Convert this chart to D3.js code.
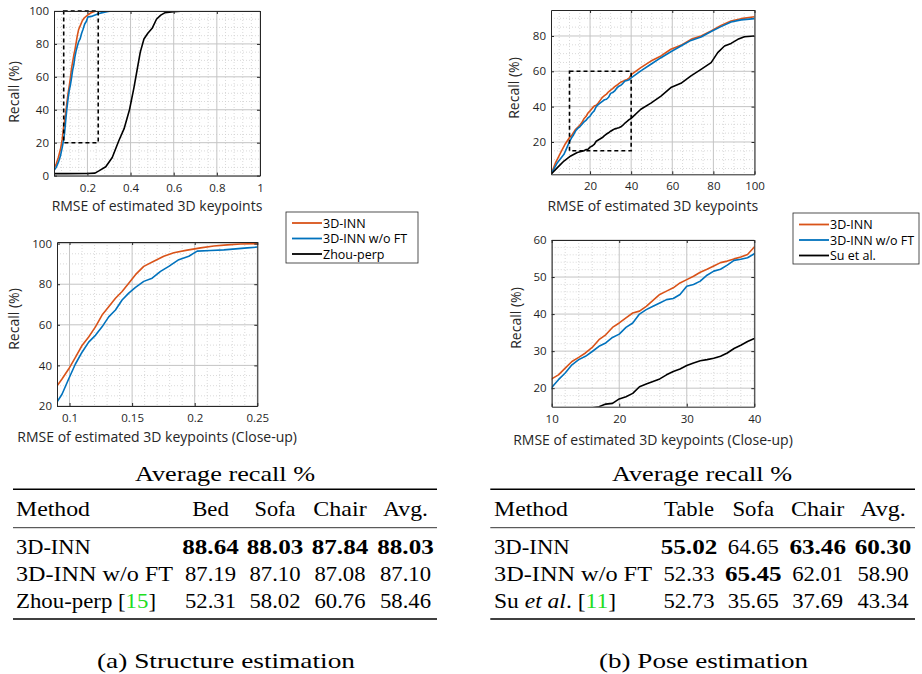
<!DOCTYPE html>
<html>
<head>
<meta charset="utf-8">
<script src="https://d3js.org/d3.v7.min.js"></script>
<style>
  body { margin: 0; background: #fff; }
</style>
</head>
<body>
<div id="figure"></div>
<script>
// ---- Structure estimation curves: [RMSE, recall %]
var structInn = [[0.045,4.5],[0.055,7],[0.065,11],[0.075,16],[0.083,22],[0.09,29.9],[0.094,33.3],[0.0993,38.2],
  [0.1047,44],[0.11,49.8],[0.1153,54],[0.1207,59],[0.126,64.8],[0.1313,68.9],[0.1367,73.1],[0.142,76.4],
  [0.1473,80.5],[0.1527,84.7],[0.1593,88.8],[0.1673,91.3],[0.1753,93.8],[0.1833,95.5],[0.194,96.8],
  [0.2047,97.9],[0.2153,98.8],[0.226,99.4],[0.2367,99.8],[0.25,100],[1,100]];
var structInnNoFt = [[0.045,3],[0.055,5],[0.065,8],[0.075,12],[0.083,17],[0.09,22],[0.094,25.8],[0.0993,33.3],
  [0.1047,40.7],[0.11,46.5],[0.1153,51.5],[0.1207,54.8],[0.126,59],[0.1313,63.9],[0.1367,67.3],[0.142,72.2],
  [0.1473,75.6],[0.1527,78.4],[0.1593,81.4],[0.166,83],[0.1727,86.3],[0.1793,88.8],[0.1873,92.1],[0.1953,93.8],
  [0.202,96.3],[0.2127,96.6],[0.2233,96.9],[0.2327,97.4],[0.242,97.9],[0.25,98.3],[0.27,99],[0.29,99.6],
  [0.31,100],[1,100]];
var structZhou = [[0.045,1.2],[0.1,1.2],[0.2,1.3],[0.235,1.5],[0.255,3],[0.285,5.4],[0.315,11],[0.345,21],
  [0.37,28.5],[0.395,40],[0.415,53],[0.43,64],[0.445,75],[0.462,83],[0.48,86.5],[0.5,89.5],[0.52,95],
  [0.54,97.5],[0.56,99],[0.6,99.5],[0.65,100],[1,100]];

// ---- Pose estimation curves: [RMSE, recall %]
var poseInn = [[1,1.7],[3.25,8.3],[5.7,14],[8,19],[10,22.5],[11,23.6],[12,25.4],[13,27.2],[14,28.3],[15,29.5],
  [16,31],[17,33.1],[18,34.4],[19,36.4],[20,37.6],[21,39],[22,40.3],[23,40.8],[24,42.1],[25,43.7],[26,45.3],
  [27,46.2],[28,47.1],[29,48.4],[30,49.3],[31,50.2],[32,51.3],[33,52.1],[34,53],[35,53.9],[36,54.3],[37,54.9],
  [38,55.4],[39,56.1],[40,58.1],[44.7,62.1],[49.6,65.8],[54.5,68.7],[59.3,72.5],[64.2,74.7],[69.1,78.1],
  [74,80],[78.9,82.8],[83.7,86],[88.6,88.5],[93.5,89.8],[100,90.9]];
var poseInnNoFt = [[1,1.7],[4.1,8.3],[7.3,13],[9,17.5],[10,20.2],[11,22.3],[12,24.1],[13,26.3],[14,27.7],
  [15,28.6],[16,29.9],[17,31.3],[18,32.2],[19,33.7],[20,34.6],[21,36.4],[22,37.6],[23,40],[24,41.2],[25,42.1],
  [26,43],[27,43.9],[28,44.2],[29,45.3],[30,47.5],[31,48],[32,48.9],[33,50.5],[34,51.6],[35,52.1],[36,53.2],
  [37,54.5],[38,54.8],[39,55.2],[40,56.3],[44.7,60.2],[49.6,64],[54.5,67.7],[59.3,71.1],[64.2,74.3],
  [69.1,77.5],[74,79.4],[78.9,82.5],[83.7,85.3],[88.6,87.9],[93.5,89.1],[100,89.8]];
var poseSu = [[1,1.7],[4.1,5.5],[7.3,9.2],[10.6,12.1],[13.8,14],[17,15],[18,15.7],[19,15.9],[20,17.1],
  [21,17.7],[22,18.6],[23,20.4],[24,21.1],[25,21.8],[26,22.5],[27,23.6],[28,24.5],[29,25.2],[30,26.1],
  [31,26.8],[32,27.4],[33,27.7],[34,28.1],[35,28.6],[36,29.5],[37,30.7],[38,31.6],[39,32.6],[40,33.4],
  [44.7,38.5],[49.6,42],[54.5,46],[59.3,50.8],[64.2,53.2],[69.1,57.4],[74,61.1],[78.9,64.9],[82.1,70.6],
  [85.4,74.3],[88.6,75.8],[91.9,78.1],[95.1,79.6],[100,80]];

// ---- Close-up windows (x0, x1, y0, y1)
var structZoomBox = [0.09, 0.25, 20, 100];
var poseZoomBox = [10, 40, 15, 60];

// ---- Legend names
var structNames = ["3D-INN", "3D-INN w/o FT", "Zhou-perp"];
var poseNames = ["3D-INN", "3D-INN w/o FT", "Su et al."];
var seriesColors = ["#D95319", "#0072BD", "#000000"];

// ---- Tables
var structHeader = ["Method", "Bed", "Sofa", "Chair", "Avg."];
var structScores = [[88.64, 88.03, 87.84, 88.03], [87.19, 87.10, 87.08, 87.10], [52.31, 58.02, 60.76, 58.46]];
var poseHeader = ["Method", "Table", "Sofa", "Chair", "Avg."];
var poseScores = [[55.02, 64.65, 63.46, 60.30], [52.33, 65.45, 62.01, 58.90], [52.73, 35.65, 37.69, 43.34]];

var svg = d3.select("#figure")
  .append("svg")
  .attr("width", 922)
  .attr("height", 674);

var sansFont = "'Open Sans', 'Noto Sans', sans-serif";
var serifFont = "'Liberation Serif', 'DejaVu Serif', serif";
var textColor = "#262626";

function gridValues(domain, step, majors) {
  return d3.range(Math.ceil(domain[0] / step - 1e-9), Math.floor(domain[1] / step + 1e-9) + 1)
    .map(k => +(k * step).toFixed(6))
    .filter(v => v > domain[0] && v < domain[1] && !majors.some(m => Math.abs(m - v) < 1e-9));
}

// Draws one MATLAB-style axes box with grid, curves and optional dashed zoom box
function drawPanel(p) {
  var x = d3.scaleLinear().domain(p.xDomain).range([p.left, p.right]);
  var y = d3.scaleLinear().domain(p.yDomain).range([p.bottom, p.top]);
  var g = svg.append("g");

  g.append("clipPath").attr("id", "clip-" + p.id)
    .append("rect")
    .attr("x", p.left).attr("y", p.top)
    .attr("width", p.right - p.left).attr("height", p.bottom - p.top);

  // minor grid
  g.selectAll(null).data(gridValues(p.xDomain, p.minorX, p.xTicks)).enter()
    .append("line")
    .attr("x1", d => x(d)).attr("x2", d => x(d))
    .attr("y1", p.top).attr("y2", p.bottom)
    .attr("stroke", "#cfcfcf").attr("stroke-width", 0.8).attr("stroke-dasharray", "1,2");
  g.selectAll(null).data(gridValues(p.yDomain, p.minorY, p.yTicks)).enter()
    .append("line")
    .attr("y1", d => y(d)).attr("y2", d => y(d))
    .attr("x1", p.left).attr("x2", p.right)
    .attr("stroke", "#cfcfcf").attr("stroke-width", 0.8).attr("stroke-dasharray", "1,2");

  // major grid
  g.selectAll(null).data(p.xTicks).enter()
    .append("line")
    .attr("x1", d => x(d)).attr("x2", d => x(d))
    .attr("y1", p.top).attr("y2", p.bottom)
    .attr("stroke", "#c4c4c4").attr("stroke-width", 1);
  g.selectAll(null).data(p.yTicks).enter()
    .append("line")
    .attr("y1", d => y(d)).attr("y2", d => y(d))
    .attr("x1", p.left).attr("x2", p.right)
    .attr("stroke", "#c4c4c4").attr("stroke-width", 1);

  // curves
  var line = d3.line().x(d => x(d[0])).y(d => y(d[1]));
  g.append("g").attr("clip-path", "url(#clip-" + p.id + ")")
    .selectAll("path")
    .data(p.series)
    .enter()
    .append("path")
    .attr("d", d => line(d))
    .attr("fill", "none")
    .attr("stroke", (d, i) => seriesColors[i])
    .attr("stroke-width", 1.6)
    .attr("stroke-linejoin", "round");

  // dashed close-up rectangle
  if (p.zoomBox) {
    var zb = p.zoomBox;
    g.append("rect")
      .attr("x", x(zb[0])).attr("y", y(zb[3]))
      .attr("width", x(zb[1]) - x(zb[0]))
      .attr("height", y(zb[2]) - y(zb[3]))
      .attr("fill", "none")
      .attr("stroke", "#000")
      .attr("stroke-width", 1.6)
      .attr("stroke-dasharray", "4,3");
  }

  // axes
  var fmt = d3.format("~g");
  var bottomAxis = d3.axisBottom(x).tickValues(p.xTicks).tickSize(-3).tickSizeOuter(0).tickPadding(8).tickFormat(fmt);
  var leftAxis = d3.axisLeft(y).tickValues(p.yTicks).tickSize(-3).tickSizeOuter(0).tickPadding(5).tickFormat(fmt);
  var topAxis = d3.axisTop(x).tickValues(p.xTicks).tickSize(-3).tickSizeOuter(0).tickFormat("");
  var rightAxis = d3.axisRight(y).tickValues(p.yTicks).tickSize(-3).tickSizeOuter(0).tickFormat("");

  [[bottomAxis, `translate(0,${p.bottom})`], [leftAxis, `translate(${p.left},0)`],
   [topAxis, `translate(0,${p.top})`], [rightAxis, `translate(${p.right},0)`]].forEach(function(a) {
    var ag = g.append("g").attr("transform", a[1]).call(a[0]);
    ag.attr("font-family", sansFont).attr("font-size", 11.5);
    ag.selectAll("path, line").attr("stroke", textColor);
    ag.selectAll("text").attr("fill", "#1f1f1f");
  });

  // axis labels
  g.append("text")
    .attr("x", (p.left + p.right) / 2)
    .attr("y", p.xLabelY)
    .attr("text-anchor", "middle")
    .attr("font-family", sansFont)
    .attr("font-size", 14)
    .attr("fill", textColor)
    .text(p.xLabel);
  g.append("text")
    .attr("transform", `translate(${p.yLabelX},${p.yLabelY}) rotate(-90)`)
    .attr("text-anchor", "middle")
    .attr("font-family", sansFont)
    .attr("font-size", 14)
    .attr("fill", textColor)
    .text("Recall (%)");
}

function drawLegend(x0, y0, w, h, names, rowY) {
  var lg = svg.append("g");
  lg.append("rect")
    .attr("x", x0).attr("y", y0).attr("width", w).attr("height", h)
    .attr("fill", "#fff").attr("stroke", "#262626").attr("stroke-width", 0.8);
  names.forEach(function(name, i) {
    lg.append("line")
      .attr("x1", x0 + 6).attr("x2", x0 + 36)
      .attr("y1", rowY[i]).attr("y2", rowY[i])
      .attr("stroke", seriesColors[i]).attr("stroke-width", 1.8);
    lg.append("text")
      .attr("x", x0 + 37).attr("y", rowY[i] + 4.5)
      .attr("font-family", sansFont).attr("font-size", 12.5)
      .attr("fill", "#000")
      .text(name);
  });
}

// Booktabs-style table
function drawTable(t) {
  var tg = svg.append("g").attr("font-family", serifFont).attr("font-size", 22).attr("fill", "#000");
  tg.append("text").attr("x", t.titleX).attr("y", 480.5).attr("text-anchor", "middle")
    .attr("textLength", 180).attr("lengthAdjust", "spacingAndGlyphs").text("Average recall %");
  [[489.3, 1.4], [527.7, 0.8], [619, 1.4]].forEach(function(r) {
    tg.append("line").attr("x1", t.x0).attr("x2", t.x1).attr("y1", r[0]).attr("y2", r[0])
      .attr("stroke", "#000").attr("stroke-width", r[1]);
  });
  t.header.forEach(function(h, i) {
    tg.append("text")
      .attr("x", i === 0 ? t.methodX : t.colX[i - 1])
      .attr("y", 516)
      .attr("text-anchor", i === 0 ? "start" : "middle")
      .attr("textLength", t.headerW[i]).attr("lengthAdjust", "spacingAndGlyphs")
      .text(h);
  });
  var rowY = [553.8, 580.5, 607.5];
  var colMax = t.scores[0].map((d, j) => d3.max(t.scores, r => r[j]));
  t.scores.forEach(function(row, i) {
    var nt = tg.append("text").attr("x", t.methodX).attr("y", rowY[i])
      .attr("textLength", t.methodW[i]).attr("lengthAdjust", "spacingAndGlyphs");
    t.methodParts[i].forEach(function(part) {
      var ts = nt.append("tspan").text(part[0]);
      if (part[1] === "i") ts.attr("font-style", "italic");
      if (part[1] === "g") ts.attr("fill", "#22dd22");
    });
    row.forEach(function(v, j) {
      var bold = v === colMax[j];
      tg.append("text")
        .attr("x", t.colX[j]).attr("y", rowY[i])
        .attr("text-anchor", "middle")
        .attr("font-weight", bold ? "bold" : "normal")
        .attr("textLength", bold ? 56.5 : 51).attr("lengthAdjust", "spacingAndGlyphs")
        .text(v.toFixed(2));
    });
  });
  tg.append("text").attr("x", t.captionX).attr("y", 668.3).attr("text-anchor", "middle")
    .attr("textLength", t.captionW).attr("lengthAdjust", "spacingAndGlyphs").text(t.caption);
}

// (a) structure estimation
drawPanel({
  id: "s1", left: 54, right: 260, top: 11, bottom: 175.6,
  xDomain: [0.045, 1], yDomain: [0, 100],
  xTicks: [0.2, 0.4, 0.6, 0.8, 1], yTicks: [0, 20, 40, 60, 80, 100],
  minorX: 0.04, minorY: 5,
  series: [structInn, structInnNoFt, structZhou], zoomBox: structZoomBox,
  xLabel: "RMSE of estimated 3D keypoints", xLabelY: 211, yLabelX: 19, yLabelY: 92
});
drawPanel({
  id: "s2", left: 57, right: 257.3, top: 242, bottom: 406,
  xDomain: [0.09, 0.25], yDomain: [20, 100.8],
  xTicks: [0.1, 0.15, 0.2, 0.25], yTicks: [20, 40, 60, 80, 100],
  minorX: 0.01, minorY: 5,
  series: [structInn, structInnNoFt, structZhou],
  xLabel: "RMSE of estimated 3D keypoints (Close-up)", xLabelY: 442, yLabelX: 19, yLabelY: 319
});
// (b) pose estimation
drawPanel({
  id: "p1", left: 551, right: 754.5, top: 10, bottom: 174.3,
  xDomain: [1, 100], yDomain: [1.7, 94.7],
  xTicks: [20, 40, 60, 80, 100], yTicks: [20, 40, 60, 80],
  minorX: 5, minorY: 5,
  series: [poseInn, poseInnNoFt, poseSu], zoomBox: poseZoomBox,
  xLabel: "RMSE of estimated 3D keypoints", xLabelY: 211, yLabelX: 519, yLabelY: 88
});
drawPanel({
  id: "p2", left: 551.7, right: 754.3, top: 240, bottom: 406.7,
  xDomain: [10, 40], yDomain: [15, 60],
  xTicks: [10, 20, 30, 40], yTicks: [20, 30, 40, 50, 60],
  minorX: 2, minorY: 2,
  series: [poseInn, poseInnNoFt, poseSu],
  xLabel: "RMSE of estimated 3D keypoints (Close-up)", xLabelY: 445, yLabelX: 521, yLabelY: 318
});

drawLegend(286, 212, 132, 51, structNames, [223, 238.5, 254]);
drawLegend(793, 213, 126, 51, poseNames, [224.5, 240, 255.5]);

drawTable({
  x0: 13, x1: 437, titleX: 225, methodX: 16, colX: [210.5, 275, 340, 405.5],
  header: structHeader, headerW: [74, 36.7, 41, 53.3, 45], scores: structScores,
  methodW: [74.7, 157, 140],
  methodParts: [[["3D-INN"]], [["3D-INN w/o FT"]], [["Zhou-perp ["], ["15", "g"], ["]"]]],
  caption: "(a) Structure estimation", captionX: 226, captionW: 258
});
drawTable({
  x0: 490.3, x1: 915, titleX: 702, methodX: 494, colX: [689, 753.3, 817.7, 883],
  header: poseHeader, headerW: [74, 50, 41.7, 53.3, 45.7], scores: poseScores,
  methodW: [75.7, 158, 122],
  methodParts: [[["3D-INN"]], [["3D-INN w/o FT"]], [["Su "], ["et al", "i"], [". ["], ["11", "g"], ["]"]]],
  caption: "(b) Pose estimation", captionX: 703.5, captionW: 209
});
</script>
</body>
</html>
